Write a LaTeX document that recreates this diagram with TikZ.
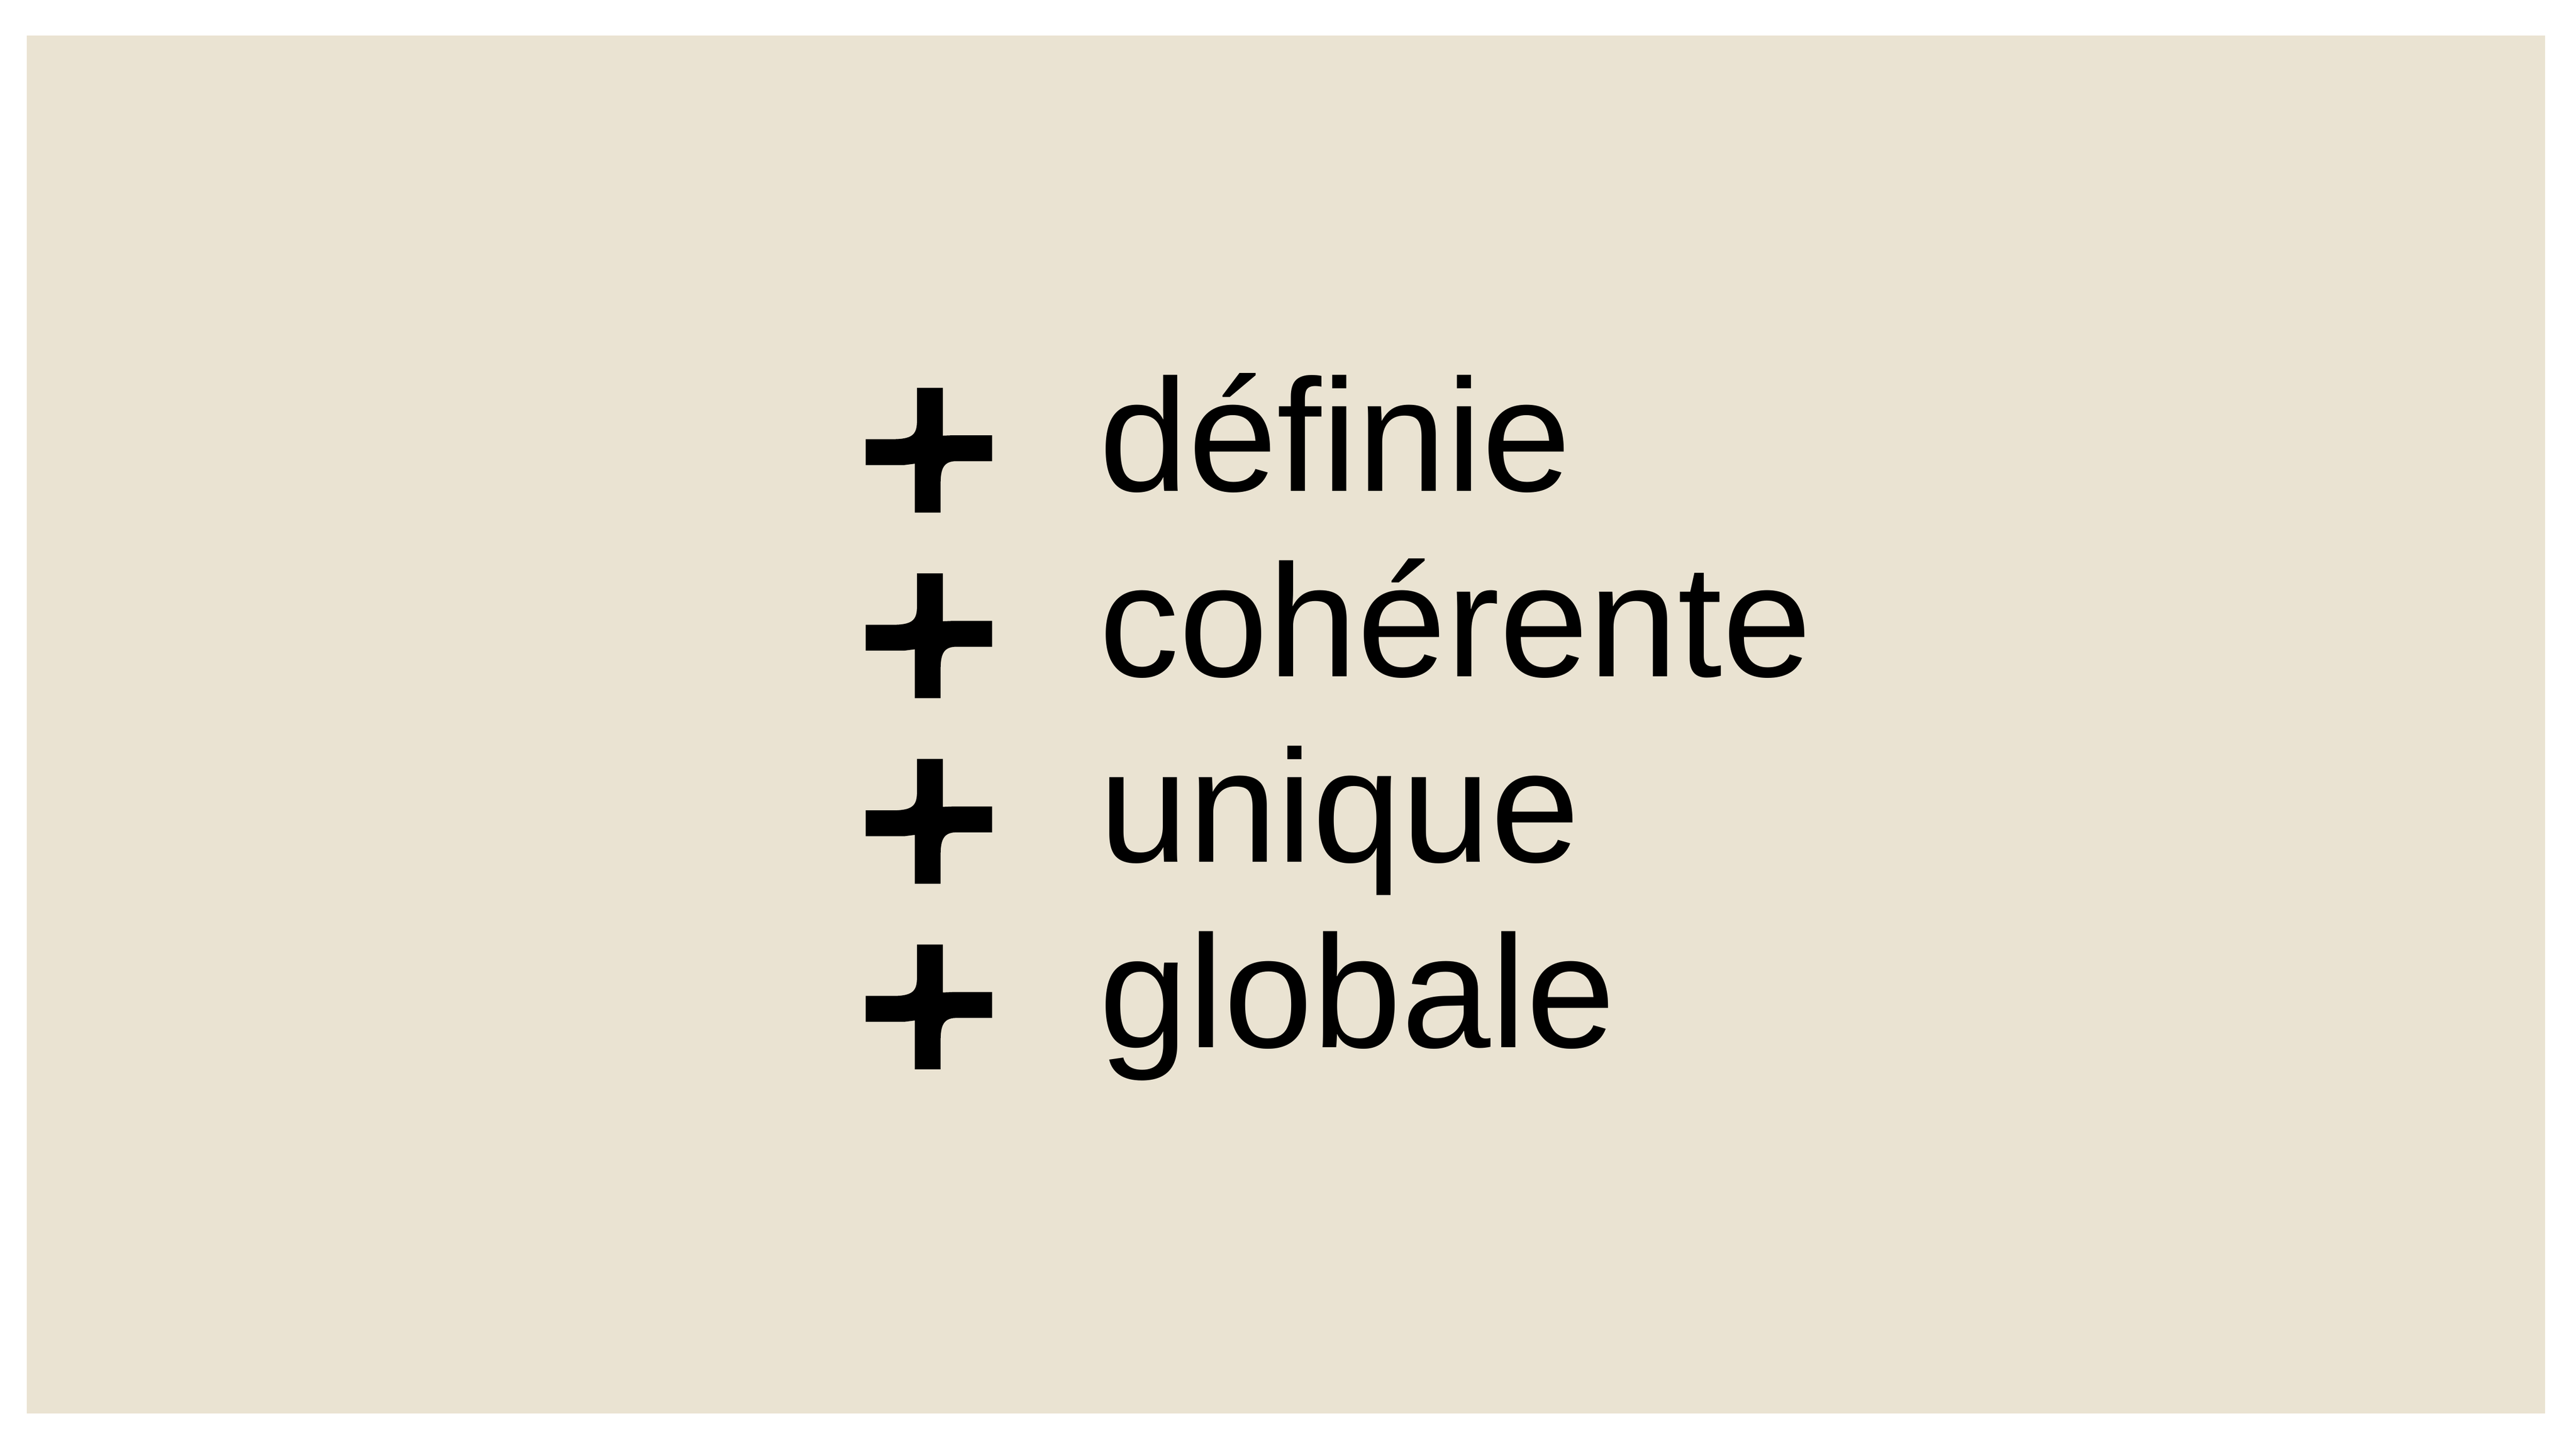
\documentclass[tikz,border=0pt]{standalone}
\usepackage{fontspec}
\setmainfont{Liberation Sans}
\definecolor{paper}{HTML}{EAE3D2}
\tikzset{
  word/.style={anchor=base west, inner sep=0pt, font=\fontsize{118}{118}\selectfont},
  plusmark/.pic={
    \fill[black] (1.327,2.67) -- (1.997,2.67) -- (1.997,1.43) -- (2.25,1.44) -- (3.27,1.44) -- (3.27,0.77)
      -- (2.32,0.77) .. controls (2.0,0.76) and (1.937,0.55) .. (1.937,0.18)
      -- (1.937,-0.56) -- (1.27,-0.56) -- (1.27,0.705) -- (1.0,0.67) -- (0,0.67) -- (0,1.34)
      -- (0.76,1.34) .. controls (1.25,1.35) and (1.327,1.5) .. (1.327,1.84) -- cycle;
  }
}
\begin{document}
\begin{tikzpicture}
			%background
			\useasboundingbox (0,0) rectangle (66.68,37.51);
			\fill[white] (0,0) rectangle (66.68,37.51);
			\fill[paper] (0.69,0.92) rectangle (65.88,36.59);
			%list
			\foreach \word [count=\i] in {définie,cohérente,unique,globale}{
				\coordinate (b\i) at (22.41,{24.80-(\i-1)*4.805});
				\pic at (b\i) {plusmark};
				\node[word] (w\i) at ([xshift=6.03cm]b\i) {\word};
			}
		\end{tikzpicture}
\end{document}
